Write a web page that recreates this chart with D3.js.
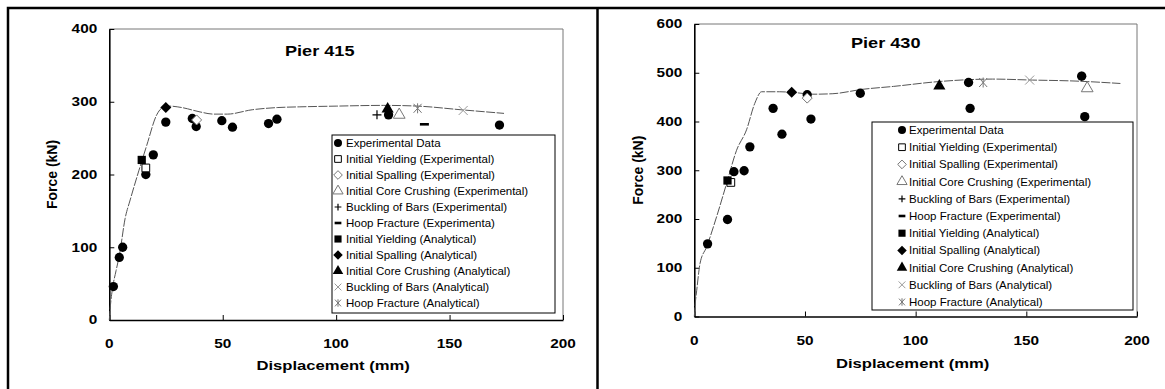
<!DOCTYPE html>
<html>
<head>
<meta charset="utf-8">
<script src="https://cdn.jsdelivr.net/npm/d3@7"></script>
<style>
  body { margin: 0; background: #fff; }
  text { font-family: Arial, 'Liberation Sans', sans-serif; fill: #000; }
  .wide { transform-box: fill-box; transform-origin: 50% 50%; transform: scaleX(1.28); }
  .wide-end { transform-box: fill-box; transform-origin: 100% 50%; transform: scaleX(1.28); }
  .wide-start { transform-box: fill-box; transform-origin: 0% 50%; transform: scaleX(1.25); }
</style>
</head>
<body>
<svg id="chart" width="1165" height="389"></svg>
<script>
// ---- data ----
const xTicks = [0, 50, 100, 150, 200];
const yTicks415 = [0, 100, 200, 300, 400];
const yTicks430 = [0, 100, 200, 300, 400, 500, 600];

const legend415 = ['Experimental Data', 'Initial Yielding (Experimental)', 'Initial Spalling (Experimental)',
  'Initial Core Crushing (Experimental)', 'Buckling of Bars (Experimental)', 'Hoop Fracture (Experimenta)',
  'Initial Yielding (Analytical)', 'Initial Spalling (Analytical)', 'Initial Core Crushing (Analytical)',
  'Buckling of Bars (Analytical)', 'Hoop Fracture (Analytical)'];
const legend430 = ['Experimental Data', 'Initial Yielding (Experimental)', 'Initial Spalling (Experimental)',
  'Initial Core Crushing (Experimental)', 'Buckling of Bars (Experimental)', 'Hoop Fracture (Experimental)',
  'Initial Yielding (Analytical)', 'Initial Spalling (Analytical)', 'Initial Core Crushing (Analytical)',
  'Buckling of Bars (Analytical)', 'Hoop Fracture (Analytical)'];

// Pier 415  [displacement mm, force kN]
const curve415 = [[0, 0], [0.5, 20], [1.5, 45], [3, 68], [4.5, 90], [7, 140], [9.2, 165], [13, 205], [16.5, 240],
  [20.9, 282], [23.5, 292], [26.5, 294], [32, 292], [40, 286], [46, 283], [52, 283], [63, 289], [74, 292],
  [84, 293], [100, 294], [121, 295], [136, 294], [155, 289], [174, 284]];
const exp415 = [[1.8, 46], [4.4, 86], [5.9, 100], [16.1, 200], [19.4, 227], [24.9, 272], [36.6, 277], [38.3, 266],
  [49.6, 274], [54.3, 265], [70.2, 270], [73.9, 276], [123.1, 282], [172, 268]];
const yieldExp415 = [[16.1, 209]];
const spallExp415 = [[38.5, 275]];
const coreExp415 = [[127.8, 282]];
const buckleExp415 = [[118, 282]];
const hoopExp415 = [[138.9, 269]];
const yieldAn415 = [[14.3, 220]];
const spallAn415 = [[24.9, 292]];
const coreAn415 = [[122.7, 290]];
const buckleAn415 = [[156, 288]];
const hoopAn415 = [[135.9, 291]];

// Pier 430
const curve430 = [[0, 0], [0.5, 30], [1.1, 54], [2.6, 109], [5.6, 143], [10.1, 205], [14.6, 273], [19.1, 341],
  [23.6, 383], [27.3, 437], [30.4, 461], [38.6, 461], [46, 459], [53.6, 456], [62.6, 457], [76, 466],
  [90, 472], [110.7, 482], [134.7, 487], [152.7, 485], [172, 483], [192.5, 478]];
const exp430 = [[6, 149], [15, 199], [17.9, 297], [22.5, 299], [25.1, 348], [35.6, 427], [39.6, 374], [51, 455],
  [52.7, 405], [75, 458], [123.9, 480], [124.6, 427], [175, 493], [176.4, 410]];
const yieldExp430 = [[16.5, 275]];
const spallExp430 = [[51, 448]];
const coreExp430 = [[177.5, 468]];
const buckleExp430 = [[175, 493]];
const hoopExp430 = [];
const yieldAn430 = [[15, 279]];
const spallAn430 = [[44, 460]];
const coreAn430 = [[110.7, 473]];
const buckleAn430 = [[151.5, 485]];
const hoopAn430 = [[130.5, 480]];

// ---- marker styles, in legend order ----
const sym = (type, size) => d3.symbol().type(type).size(size)();
const diamond = r => `M0,${-r}L${r},0L0,${r}L${-r},0Z`;
const markers = [
  { d: s => sym(d3.symbolCircle, 68 * s), fill: '#000', stroke: 'none' },
  { d: s => sym(d3.symbolSquare, 60 * s), fill: '#fff', stroke: '#000', w: 1 },
  { d: s => diamond(5 * Math.sqrt(s)), fill: '#fff', stroke: '#777', w: 1 },
  { d: s => sym(d3.symbolTriangle, 60 * s), fill: '#fff', stroke: '#777', w: 1 },
  { d: s => `M${-4.5 * s},0H${4.5 * s}M0,${-4.5 * s}V${4.5 * s}`, fill: 'none', stroke: '#000', w: 1.2 },
  { d: s => `M${-4.5 * s},0H${4.5 * s}`, fill: 'none', stroke: '#000', w: 2.6 },
  { d: s => sym(d3.symbolSquare, 68 * s), fill: '#000', stroke: 'none' },
  { d: s => diamond(5.5 * Math.sqrt(s)), fill: '#000', stroke: 'none' },
  { d: s => sym(d3.symbolTriangle, 64 * s), fill: '#000', stroke: 'none' },
  { d: s => `M${-4.5 * s},${-4.5 * s}L${4.5 * s},${4.5 * s}M${-4.5 * s},${4.5 * s}L${4.5 * s},${-4.5 * s}`, fill: 'none', stroke: '#999', w: 1 },
  { d: s => `M${-4 * s},${-4.5 * s}L${4 * s},${4.5 * s}M${-4 * s},${4.5 * s}L${4 * s},${-4.5 * s}M0,${-5 * s}V${5 * s}`, fill: 'none', stroke: '#777', w: 1 }
];

const svg = d3.select('#chart');

// outer frames
svg.append('path').attr('d', 'M8,389V8H1165M597.5,8V389')
  .attr('fill', 'none').attr('stroke', '#000').attr('stroke-width', 2.5);

function drawPanel(p) {
  const x = d3.scaleLinear().domain([0, 200]).range([p.left, p.right]);
  const y = d3.scaleLinear().domain([0, p.yMax]).range([p.bottom, p.top]);
  const g = svg.append('g');

  // plot frame (top and right in grey)
  g.append('path').attr('d', `M${p.left},${p.top}H${p.right}V${p.bottom}`)
    .attr('fill', 'none').attr('stroke', '#777').attr('stroke-width', 1);

  const xAxis = g.append('g').attr('transform', `translate(0,${p.bottom})`)
    .call(d3.axisBottom(x).tickValues(xTicks).tickSize(-5).tickSizeOuter(0).tickFormat(''));
  const yAxis = g.append('g').attr('transform', `translate(${p.left},0)`)
    .call(d3.axisLeft(y).tickValues(p.yTicks).tickSize(-5).tickSizeOuter(0).tickFormat(''));
  [xAxis, yAxis].forEach(a => {
    a.select('.domain').attr('stroke-width', 1.6);
    a.selectAll('.tick line').attr('stroke-width', 1);
  });

  // tick labels
  g.selectAll('.xl').data(xTicks).enter().append('text').attr('class', 'wide')
    .attr('x', d => x(d)).attr('y', p.xLabelY).attr('text-anchor', 'middle')
    .style('font-size', '12px').style('font-weight', 'bold').text(d => d);
  g.selectAll('.yl').data(p.yTicks).enter().append('text').attr('class', 'wide-end')
    .attr('x', p.left - 12).attr('y', d => y(d) + 4.5).attr('text-anchor', 'end')
    .style('font-size', '12px').style('font-weight', 'bold').text(d => d);

  // axis titles
  g.append('text').attr('class', 'wide').attr('x', (p.left + p.right) / 2 - 3).attr('y', p.xTitleY)
    .attr('text-anchor', 'middle').style('font-size', '13px').style('font-weight', 'bold').text('Displacement (mm)');
  g.append('text').attr('transform', `translate(${p.yTitleX},${(p.top + p.bottom) / 2}) rotate(-90)`)
    .attr('text-anchor', 'middle').style('font-size', '14px').style('font-weight', 'bold').text('Force (kN)');

  // chart title
  g.append('text').attr('class', 'wide-start').attr('x', p.titleX).attr('y', p.titleY)
    .style('font-size', '14.5px').style('font-weight', 'bold').text(p.title);

  // analytical curve
  const line = d3.line().x(d => x(d[0])).y(d => y(d[1])).curve(d3.curveMonotoneX);
  g.append('path').datum(p.curve).attr('d', line)
    .attr('fill', 'none').attr('stroke', '#555').attr('stroke-width', 1).attr('stroke-dasharray', '9,1.5');

  // legend box
  const lg = g.append('g');
  lg.append('rect').attr('x', p.lgX).attr('y', p.lgY).attr('width', p.lgW).attr('height', p.lgH)
    .attr('fill', '#fff').attr('stroke', '#000').attr('stroke-width', 1);
  p.legend.forEach((label, i) => {
    const yy = p.lgFirst + i * p.lgStep;
    const m = markers[i];
    lg.append('path').attr('d', m.d(0.75)).attr('transform', `translate(${p.lgSymX},${yy})`)
      .attr('fill', m.fill).attr('stroke', m.stroke).attr('stroke-width', m.w || 0);
    lg.append('text').attr('x', p.lgTextX).attr('y', yy + 4).style('font-size', '11.5px').text(label);
  });

  // markers
  p.series.forEach((pts, i) => {
    const m = markers[i];
    g.selectAll(null).data(pts).enter().append('path')
      .attr('d', m.d(1)).attr('transform', d => `translate(${x(d[0])},${y(d[1])})`)
      .attr('fill', m.fill).attr('stroke', m.stroke).attr('stroke-width', m.w || 0);
  });
}

drawPanel({
  left: 109.3, right: 563, top: 29, bottom: 320, yMax: 400, yTicks: yTicks415,
  xLabelY: 348, xTitleY: 370, yTitleX: 57, titleX: 285, titleY: 56, title: 'Pier 415',
  curve: curve415, legend: legend415,
  series: [exp415, yieldExp415, spallExp415, coreExp415, buckleExp415, hoopExp415,
    yieldAn415, spallAn415, coreAn415, buckleAn415, hoopAn415],
  lgX: 332, lgY: 135, lgW: 223, lgH: 178, lgFirst: 143, lgStep: 16, lgSymX: 338, lgTextX: 346
});

drawPanel({
  left: 694.3, right: 1137, top: 24, bottom: 316.5, yMax: 600, yTicks: yTicks430,
  xLabelY: 345, xTitleY: 368, yTitleX: 643, titleX: 851, titleY: 48, title: 'Pier 430',
  curve: curve430, legend: legend430,
  series: [exp430, yieldExp430, spallExp430, coreExp430, buckleExp430, hoopExp430,
    yieldAn430, spallAn430, coreAn430, buckleAn430, hoopAn430],
  lgX: 872, lgY: 122, lgW: 261, lgH: 188, lgFirst: 130, lgStep: 17.2, lgSymX: 902, lgTextX: 909
});
</script>
</body>
</html>
